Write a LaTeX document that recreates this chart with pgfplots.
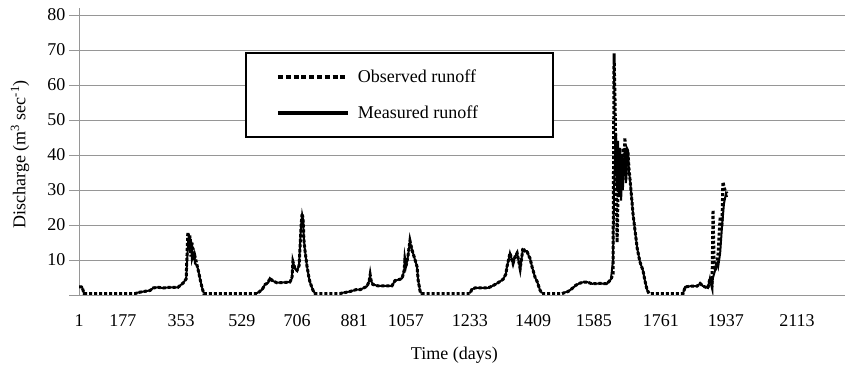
\documentclass[border=0pt]{standalone}
\usepackage{fontspec}
\setmainfont{Liberation Serif}
\usepackage{pgfplots}
\pgfplotsset{compat=1.18}
\definecolor{gridgray}{RGB}{150,150,150}
\begin{document}
\begin{tikzpicture}[font=\fontsize{18bp}{21bp}\selectfont]
\begin{axis}[
  scale only axis, width=766bp, height=287bp,
  xmin=1, xmax=2253, ymin=0, ymax=82,
  axis lines*=left,
  axis line style={gridgray, line width=0.8bp},
  ytick={0,10,...,80}, yticklabels={,10,20,30,40,50,60,70,80},
  ymajorgrids, grid style={gridgray, line width=0.8bp},
  tick align=outside, major tick length=10bp,
  tick style={gridgray, line width=0.8bp},
  xtick={1,130,301,480,642,810,962,1150,1336,1515,1712,1903,2112},
  xticklabels={1,177,353,529,706,881,1057,1233,1409,1585,1761,1937,2113},
  xtick style={draw=none},
  /pgf/number format/assume math mode=true,
  xticklabel style={yshift=-6bp},
  xlabel={Time (days)},
  xlabel style={at={(axis description cs:0.49,0)}, anchor=center, yshift=-60bp},
  ylabel={Discharge (m\textsuperscript{3} sec\textsuperscript{-1})},
  ylabel style={at={(axis description cs:-0.077,0.49)}, anchor=center},
  unbounded coords=jump,
  legend cell align=left,
  legend style={at={(0.2167,0.8467)}, anchor=north west, draw=black, line width=2bp,
    fill=white, inner xsep=30bp, inner ysep=14.5bp, row sep=18.5bp,
    /tikz/every odd column/.append style={column sep=6bp},
    font=\fontsize{18bp}{21bp}\selectfont},
]
\addplot[black, line width=3bp, dash pattern=on 3bp off 2bp,
  legend image code/.code={\draw[black, line width=4bp, dash pattern=on 5bp off 2.8bp] (0bp,0bp) -- (70bp,0bp);}]
coordinates {
(1,2.3)(10,2.3)(16,0.4)(166,0.4)(180,0.8)(210,1.3)(219,2.0)(233,2.2)(248,2.0)(268,2.2)(292,2.2)(307,3.4)(316,4.6)(321,18)(324,13)(327,17)(330,11)(333,15)(339,10)(342,11)(348,8.5)(354,6)(357,4.5)(363,2)(368,0.4)
(524,0.4)(539,1.5)(548,3)(557,3.5)(562,4.8)(571,4)(583,3.5)(607,3.6)(621,3.7)(627,4.8)(630,9.5)(636,7.5)(642,7)(648,8.4)(654,20)(657,23.3)(660,21.7)(662,16)(665,13)(671,8.4)(677,5)(680,3.7)(689,1.3)(695,0.4)
(768,0.4)(798,1)(815,1.5)(827,1.5)(842,2.2)(848,2.5)(854,4)(857,5.8)(860,4)(865,3)(880,2.6)(901,2.6)(921,2.6)(930,4.1)(945,4.5)(951,4.8)(957,7)(959,9.9)(962,8)(968,11)(974,15.5)(980,12.9)(986,11)(992,9)(995,8)(998,4.3)(1004,1)(1009,0.4)
(1150,0.4)(1156,1.6)(1165,2)(1180,2)(1203,2)(1215,2.5)(1233,3.5)(1248,4.5)(1256,6)(1259,8)(1265,10.5)(1268,12)(1274,10)(1277,9)(1283,11)(1289,12)(1295,9)(1298,7.5)(1303,11)(1306,13.5)(1312,12.5)(1318,12.5)(1324,11)(1327,10.5)(1333,8)(1336,7)(1342,5)(1348,3.8)(1356,1.5)(1362,0.4)
(1421,0.4)(1439,1)(1450,1.8)(1462,2.8)(1474,3.4)(1486,3.7)(1495,3.7)(1509,3.2)(1533,3.3)(1553,3.2)(1565,4.5)(1571,6)(1574,69)(1577,55)(1580,35)(1583,15)(1586,30)(1589,40)(1592,28)(1595,38)(1597,30)(1600,42)(1603,35)(1606,45)(1609,33)(1612,40)(1615,41)(1618,36)(1621,33)(1630,22.9)(1642,13.4)(1650,9.5)(1659,7)(1665,4)(1671,1.5)(1677,0.4)
(1777,0.4)(1783,2.3)(1797,2.5)(1818,2.5)(1827,3.3)(1836,2.5)(1850,2)(1856,4.8)(1862,2.5)(1865,24.3)(1868,10)(1871,7)(1877,9.5)(1880,12)(1886,22.4)(1891,19.5)(1894,32.3)(1900,30)(1906,29)
};
\addlegendentry{Observed runoff\hspace*{45bp}}
\addplot[black, line width=2bp,
  legend image code/.code={\draw[black, line width=4bp] (0bp,0bp) -- (70bp,0bp);}]
coordinates {
(1,2.3)(10,2.3)(16,0.3)(17,nan)
(166,0.5)(180,0.8)(210,1.3)(219,2.0)(233,2.2)(248,2.0)(268,2.2)(292,2.2)(307,3.4)(316,4.6)(321,14)(324,17.5)(327,13)(330,16)(333,10)(339,12)(342,9)(348,8.5)(354,6)(357,4.5)(363,2)(368,0.5)(369,nan)
(524,0.5)(539,1.5)(548,3)(557,3.5)(562,4.8)(571,4)(583,3.5)(607,3.6)(621,3.7)(627,4.8)(630,9.5)(636,7.5)(642,7)(648,8.4)(654,20)(657,23)(660,21.5)(662,16)(665,13)(671,8.4)(677,5)(680,3.7)(689,1.3)(695,0.5)(696,nan)
(768,0.5)(798,1)(815,1.5)(827,1.5)(842,2.2)(848,2.5)(854,4)(857,5.2)(860,4)(865,3)(880,2.6)(901,2.6)(921,2.6)(930,4.1)(945,4.5)(951,4.8)(957,7)(959,9.9)(962,8)(968,11)(974,15.2)(980,12.9)(986,11)(992,9)(995,8)(998,4.3)(1004,1)(1009,0.5)(1010,nan)
(1150,0.5)(1156,1.6)(1165,2)(1180,2)(1203,2)(1215,2.5)(1233,3.5)(1248,4.5)(1256,6)(1259,8)(1265,10.5)(1268,12)(1274,10)(1277,9)(1283,11)(1289,12)(1295,9)(1298,7.5)(1303,11)(1306,13)(1312,12.5)(1318,12.5)(1324,11)(1327,10.5)(1333,8)(1336,7)(1342,5)(1348,3.8)(1356,1.5)(1362,0.5)(1363,nan)
(1421,0.5)(1439,1)(1450,1.8)(1462,2.8)(1474,3.4)(1486,3.7)(1495,3.7)(1509,3.2)(1533,3.3)(1553,3.2)(1565,4.5)(1571,10)(1574,30)(1577,40)(1580,46)(1583,30)(1586,44)(1589,28)(1592,42)(1595,27)(1597,40)(1600,30)(1603,38)(1606,42)(1609,32)(1612,42)(1615,41.4)(1618,35)(1621,33)(1630,22.9)(1642,13.4)(1650,9.5)(1659,7)(1665,4)(1671,1.5)(1677,0.5)(1678,nan)
(1777,0.5)(1783,2.3)(1797,2.5)(1818,2.5)(1827,3.3)(1836,2.5)(1850,2)(1856,4.8)(1862,2.5)(1865,5)(1871,7)(1877,9)(1880,8)(1886,12)(1891,19)(1897,26)(1903,29)(1906,28)
};
\addlegendentry{Measured runoff}
\end{axis}
\path ([shift={(-79bp,-72bp)}]current axis.south west) rectangle ([shift={(1bp,8bp)}]current axis.north east);
\end{tikzpicture}
\end{document}
